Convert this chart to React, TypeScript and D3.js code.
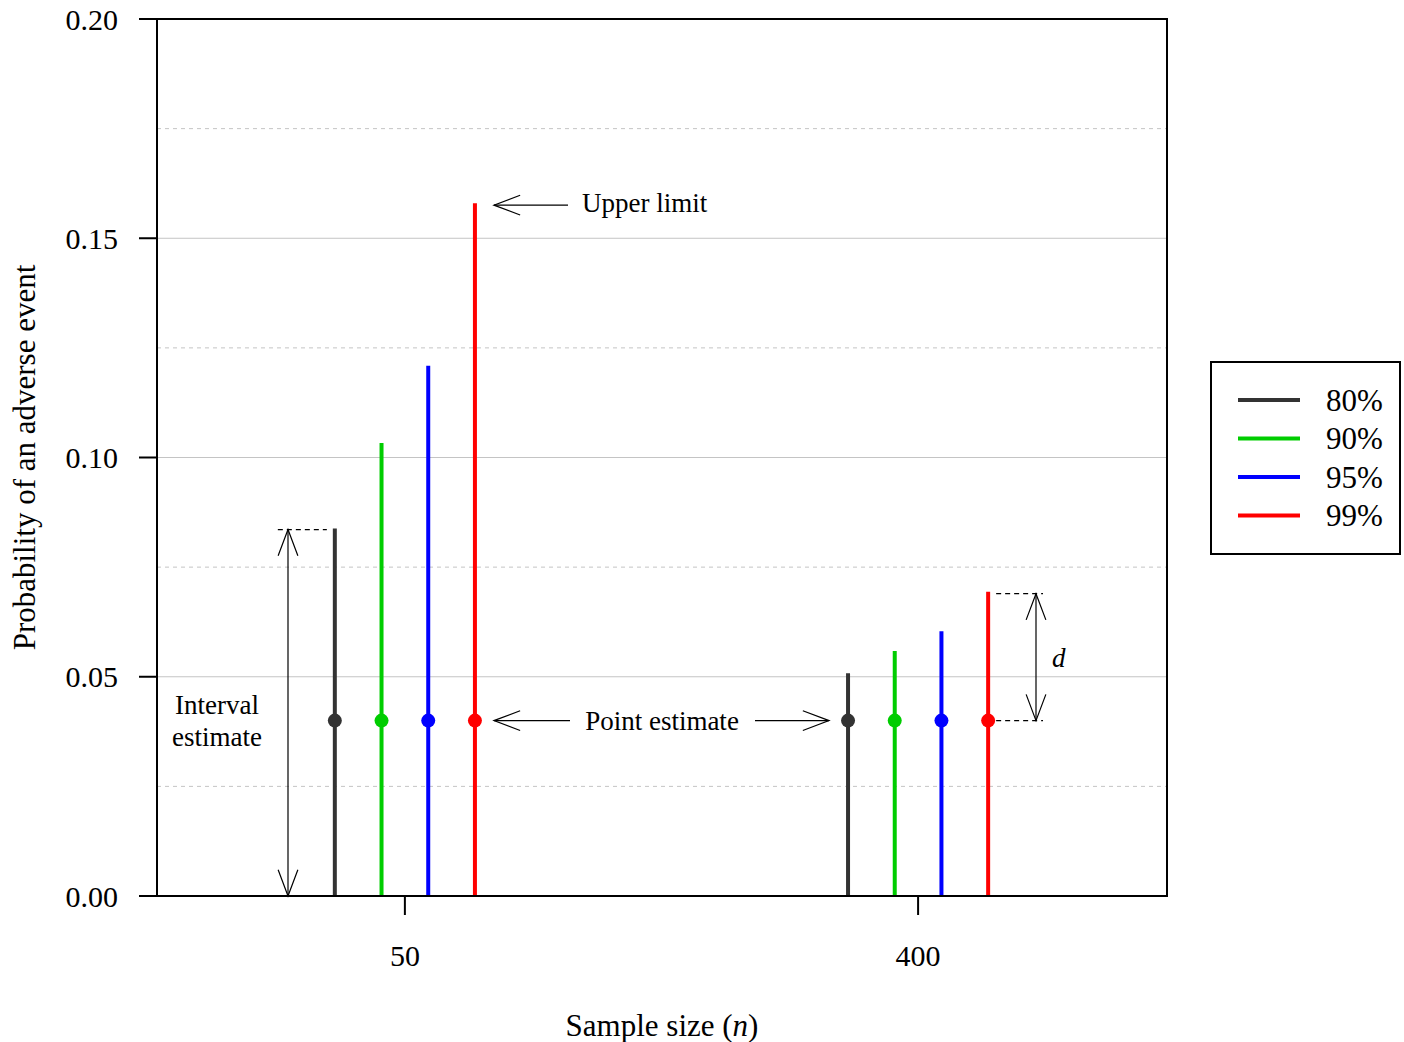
import React, { useEffect, useRef } from "react";
import * as d3 from "d3";

const sampleSizes = ["50", "400"];
const levels = ["80%", "90%", "95%", "99%"];
const levelColors = ["#333333", "#00cd00", "#0000ff", "#ff0000"];
const pointEstimate = 0.04;
const upper50 = [0.0838, 0.1033, 0.1209, 0.158];
const upper400 = [0.0508, 0.0559, 0.0604, 0.0694];
const yTicks = [0, 0.05, 0.1, 0.15, 0.2];
const yMinor = [0.025, 0.075, 0.125, 0.175];

const W = 1404;
const H = 1042;
const FONT = "'Liberation Serif', 'Times New Roman', serif";

export default function App() {
  const ref = useRef<SVGSVGElement>(null);

  useEffect(() => {
    const svg = d3.select(ref.current);
    svg.selectAll("*").remove();

    const left = 157, right = 1167, top = 19, bottom = 896;
    const y = d3.scaleLinear().domain([0, 0.2]).range([bottom, top]);
    const x = d3.scaleLinear().domain([0.517, 2.485]).range([left, right]);
    const off = d3.scalePoint<string>().domain(levels).range([-0.1365, 0.1365]);
    const xPos = (i: number, lv: string) => x(i + 1 + (off(lv) as number));

    // grid
    svg.append("g").selectAll("line").data(yTicks.slice(1, 4)).enter().append("line")
      .attr("x1", left).attr("x2", right)
      .attr("y1", (d) => y(d)).attr("y2", (d) => y(d))
      .attr("stroke", "#c4c4c4").attr("stroke-width", 1);
    svg.append("g").selectAll("line").data(yMinor).enter().append("line")
      .attr("x1", left).attr("x2", right)
      .attr("y1", (d) => y(d)).attr("y2", (d) => y(d))
      .attr("stroke", "#c4c4c4").attr("stroke-width", 1).attr("stroke-dasharray", "4,4");

    // intervals
    const rows: { i: number; lv: string; c: string; up: number }[] = [];
    [upper50, upper400].forEach((arr, i) =>
      arr.forEach((up, j) => rows.push({ i, lv: levels[j], c: levelColors[j], up }))
    );
    svg.append("g").selectAll("line").data(rows).enter().append("line")
      .attr("x1", (d) => xPos(d.i, d.lv)).attr("x2", (d) => xPos(d.i, d.lv))
      .attr("y1", y(0)).attr("y2", (d) => y(d.up))
      .attr("stroke", (d) => d.c).attr("stroke-width", 4);
    svg.append("g").selectAll("circle").data(rows).enter().append("circle")
      .attr("cx", (d) => xPos(d.i, d.lv)).attr("cy", y(pointEstimate))
      .attr("r", 7).attr("fill", (d) => d.c);

    // frame
    svg.append("rect").attr("x", left).attr("y", top)
      .attr("width", right - left).attr("height", bottom - top)
      .attr("fill", "none").attr("stroke", "#000").attr("stroke-width", 2);

    // y axis
    const yAxis = svg.append("g");
    yTicks.forEach((t) => {
      yAxis.append("line").attr("x1", left - 18).attr("x2", left)
        .attr("y1", y(t)).attr("y2", y(t)).attr("stroke", "#000").attr("stroke-width", 2);
      yAxis.append("text").attr("x", 118).attr("y", y(t)).attr("dy", "0.35em")
        .attr("text-anchor", "end").style("font-size", "30px").style("font-family", FONT)
        .text(t.toFixed(2));
    });
    // x axis
    sampleSizes.forEach((s, i) => {
      svg.append("line").attr("x1", x(i + 1)).attr("x2", x(i + 1))
        .attr("y1", bottom).attr("y2", bottom + 19).attr("stroke", "#000").attr("stroke-width", 2);
      svg.append("text").attr("x", x(i + 1)).attr("y", 966).attr("text-anchor", "middle")
        .style("font-size", "30px").style("font-family", FONT).text(s);
    });

    const xt = svg.append("text").attr("x", (left + right) / 2).attr("y", 1036)
      .attr("text-anchor", "middle").style("font-size", "31px").style("font-family", FONT);
    xt.append("tspan").text("Sample size (");
    xt.append("tspan").style("font-style", "italic").text("n");
    xt.append("tspan").text(")");

    svg.append("text").attr("transform", `translate(35,${(top + bottom) / 2}) rotate(-90)`)
      .attr("text-anchor", "middle").style("font-size", "31px").style("font-family", FONT)
      .text("Probability of an adverse event");

    // annotations
    const ann = svg.append("g").attr("stroke", "#000").attr("fill", "none").attr("stroke-width", 1.2);
    const arrowHead = (tx: number, ty: number, ang: number) => {
      const len = 28, a = 0.36;
      const p1 = [tx + len * Math.cos(ang + a), ty + len * Math.sin(ang + a)];
      const p2 = [tx + len * Math.cos(ang - a), ty + len * Math.sin(ang - a)];
      ann.append("path").attr("d", `M${p1[0]},${p1[1]}L${tx},${ty}L${p2[0]},${p2[1]}`);
    };
    const arrow = (x1: number, y1: number, x2: number, y2: number, both: boolean) => {
      ann.append("line").attr("x1", x1).attr("y1", y1).attr("x2", x2).attr("y2", y2);
      const ang = Math.atan2(y1 - y2, x1 - x2);
      arrowHead(x2, y2, ang);
      if (both) arrowHead(x1, y1, ang + Math.PI);
    };
    const dashed = (x1: number, x2: number, yy: number) =>
      ann.append("line").attr("x1", x1).attr("x2", x2).attr("y1", yy).attr("y2", yy)
        .attr("stroke-dasharray", "5,4");

    const tip = (i: number, j: number) => xPos(i, levels[j]);
    const yUp50 = y(upper50[0]);
    dashed(tip(0, 0) - 57, tip(0, 0) - 8, yUp50 + 1);
    arrow(288, y(0), 288, yUp50 + 1, true);

    const yUpRed = y(upper50[3]);
    arrow(568, yUpRed + 2, tip(0, 3) + 19, yUpRed + 2, false);

    const yPt = y(pointEstimate);
    arrow(570, yPt, tip(0, 3) + 19, yPt, false);
    arrow(755, yPt, tip(1, 0) - 19, yPt, false);

    const yUp400 = y(upper400[3]);
    dashed(tip(1, 3) + 8, 1043, yUp400 + 2);
    dashed(tip(1, 3) + 8, 1043, yPt);
    arrow(1036, yPt, 1036, yUp400 + 2, true);

    const txt = (tx: number, ty: number, s: string, anchor = "start", italic = false) =>
      svg.append("text").attr("x", tx).attr("y", ty).attr("dy", "0.35em")
        .attr("text-anchor", anchor).style("font-size", "27px").style("font-family", FONT)
        .style("font-style", italic ? "italic" : "normal").text(s);
    txt(582, 203, "Upper limit");
    txt(662, 721, "Point estimate", "middle");
    txt(217, 705, "Interval", "middle");
    txt(217, 737, "estimate", "middle");
    txt(1052, 658, "d", "start", true);

    // legend
    const lg = svg.append("g");
    lg.append("rect").attr("x", 1211).attr("y", 362).attr("width", 189).attr("height", 192)
      .attr("fill", "#fff").attr("stroke", "#000").attr("stroke-width", 2);
    levels.forEach((lv, j) => {
      const ly = 400 + j * 38.5;
      lg.append("line").attr("x1", 1238).attr("x2", 1300).attr("y1", ly).attr("y2", ly)
        .attr("stroke", levelColors[j]).attr("stroke-width", 4);
      lg.append("text").attr("x", 1326).attr("y", ly).attr("dy", "0.35em")
        .style("font-size", "31px").style("font-family", FONT).text(lv);
    });
  }, []);

  return (
    <svg ref={ref} width={W} height={H}
      style={{ position: "absolute", left: 0, top: 0, background: "#fff" }} />
  );
}
